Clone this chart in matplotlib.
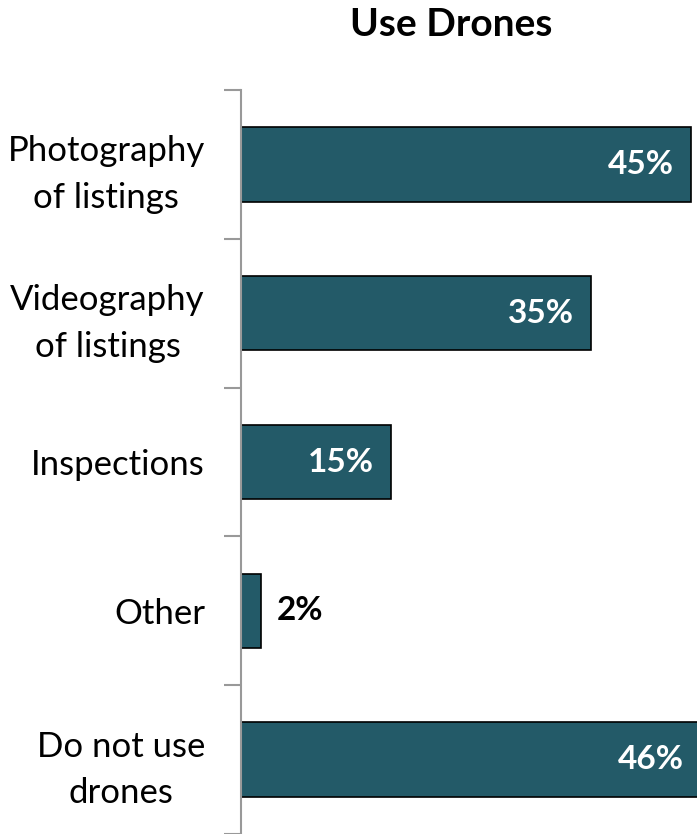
import numpy as np
import matplotlib.pyplot as plt

plt.rcParams['font.family'] = ['Lato', 'DejaVu Sans']

categories = ["Photography\nof listings", "Videography\nof listings", "Inspections", "Other", "Do not use\ndrones"]
values = [45, 35, 15, 2, 46]
bar_color = "#235a68"

fig = plt.figure(figsize=(6.97, 8.34), dpi=100)
ax = fig.add_axes([241/697, 0, 1 - 241/697, 1 - 90/834])

y = np.arange(len(categories))
ax.barh(y, values, height=0.5, color=bar_color, edgecolor="black", linewidth=1.2)
ax.set_xlim(0, 45.6)
ax.set_ylim(len(categories) - 0.5, -0.5)

for yi, v in zip(y, values):
    if v >= 10:
        ax.text(v - 1.7, yi, f"{v}%", ha="right", va="center",
                color="white", fontsize=24, fontweight="bold")
    else:
        ax.text(v + 1.6, yi, f"{v}%", ha="left", va="center",
                color="black", fontsize=24, fontweight="bold")

ax.set_yticks(y)
ax.set_yticklabels(categories, fontsize=25, linespacing=1.55)
for lab in ax.get_yticklabels():
    lab.set_multialignment("center")
ax.set_yticks(np.arange(len(categories) + 1) - 0.5, minor=True)
ax.tick_params(axis="y", which="major", length=0, pad=26)
ax.tick_params(axis="y", which="minor", length=12, color="#999999", width=1.5)
ax.set_xticks([])
for s in ["top", "right", "bottom"]:
    ax.spines[s].set_visible(False)
ax.spines["left"].set_color("#999999")
ax.spines["left"].set_linewidth(1.5)

fig.text(451/697, 1 - 25/834, "Use Drones", ha="center", va="center",
         fontsize=28, fontweight="bold")

fig.savefig("out.png", dpi=100)
